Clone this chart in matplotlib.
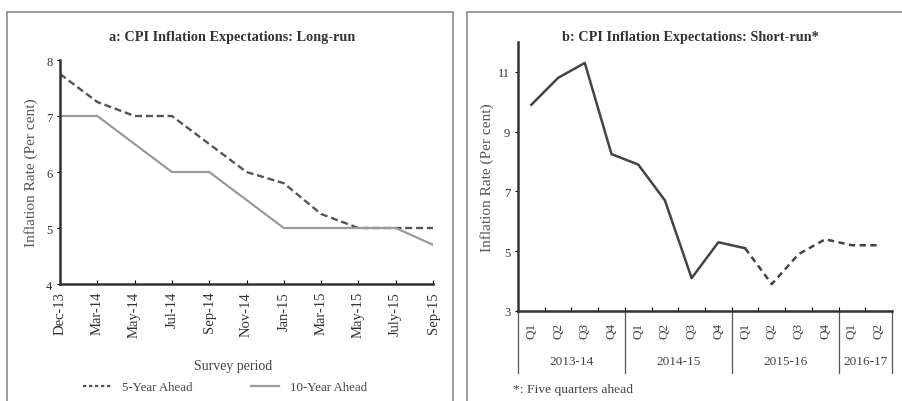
import numpy as np
import matplotlib
matplotlib.use("Agg")
import matplotlib.pyplot as plt
from matplotlib.patches import Rectangle
from matplotlib.lines import Line2D

plt.rcParams['font.family'] = ['Liberation Serif', 'DejaVu Serif']

# Panel a: long-run expectations
survey = ['Dec-13', 'Mar-14', 'May-14', 'Jul-14', 'Sep-14', 'Nov-14',
          'Jan-15', 'Mar-15', 'May-15', 'July-15', 'Sep-15']
five_year = [7.75, 7.25, 7.0, 7.0, 6.5, 6.0, 5.8, 5.25, 5.0, 5.0, 5.0]
ten_year = [7.0, 7.0, 6.5, 6.0, 6.0, 5.5, 5.0, 5.0, 5.0, 5.0, 4.7]

# Panel b: short-run expectations (quarters)
quarters = ['Q1', 'Q2', 'Q3', 'Q4', 'Q1', 'Q2', 'Q3', 'Q4',
            'Q1', 'Q2', 'Q3', 'Q4', 'Q1', 'Q2']
fin_years = ['2013-14', '2014-15', '2015-16', '2016-17']
year_len = [4, 4, 4, 2]
short_run = [9.9, 10.8, 11.3, 8.25, 7.9, 6.7, 4.1, 5.3,
             5.1, 3.9, 4.9, 5.4, 5.2, 5.2]
n_actual = 9  # first 9 points observed, rest projected

fig = plt.figure(figsize=(9.02, 4.02), dpi=100)

# panel borders
for x0, w in [(7, 446), (467, 440)]:
    fig.patches.append(Rectangle((x0 / 902, -0.05), w / 902, 1 - 13 / 402 + 0.05,
                                 transform=fig.transFigure, fill=False,
                                 edgecolor='#8a8a8a', lw=1.2))

# ---- left panel
ax1 = fig.add_axes([60 / 902, 1 - 285 / 402, 373 / 902, 224 / 402])
x1 = np.arange(len(survey))
ax1.plot(x1, five_year, color='#555555', lw=1.7, dashes=(3, 1.6))
ax1.plot(x1, ten_year, color='#9a9a9a', lw=1.6)
ax1.set_xlim(0, len(survey) - 1)
ax1.set_ylim(4, 8)
ax1.set_yticks([4, 5, 6, 7, 8])
ax1.set_xticks(x1)
ax1.set_xticklabels(survey, rotation=90, fontsize=10.5, color='#333333')
ax1.tick_params(axis='x', direction='in', length=3, pad=5)
ax1.tick_params(axis='y', direction='out', length=2, labelsize=9, labelcolor='#333333')
for s in ['top', 'right']:
    ax1.spines[s].set_visible(False)
for s in ['left', 'bottom']:
    ax1.spines[s].set_linewidth(1.8)
    ax1.spines[s].set_color('#333333')
ax1.set_ylabel('Inflation Rate (Per cent)', fontsize=11, color='#555555', labelpad=6)
fig.text(233 / 902, 1 - 367 / 402, 'Survey period', ha='center', va='center',
         fontsize=10, color='#444444')
fig.text(232 / 902, 1 - 37 / 402, 'a: CPI Inflation Expectations: Long-run',
         ha='center', va='center', fontsize=10.3, fontweight='bold', color='#333333')
handles = [Line2D([], [], color='#555555', lw=1.6, dashes=(1.5, 1.2)),
           Line2D([], [], color='#9a9a9a', lw=1.6)]
fig.legend(handles, ['5-Year Ahead', '10-Year Ahead'], ncol=2, frameon=False,
           loc='center', bbox_to_anchor=(225 / 902, 1 - 388 / 402),
           fontsize=9.3, handlelength=2.2, columnspacing=4.5, labelcolor='#444444')

# ---- right panel
ax2 = fig.add_axes([518 / 902, 1 - 312 / 402, 374 / 902, 269 / 402])
x2 = np.arange(len(quarters))
ax2.plot(x2[:n_actual], short_run[:n_actual], color='#444444', lw=1.8)
ax2.plot(x2[n_actual - 1:], short_run[n_actual - 1:], color='#444444', lw=1.8,
         dashes=(2.5, 1.8))
ax2.set_xlim(-0.5, len(quarters) - 0.5)
ax2.set_ylim(3, 12)
ax2.set_yticks([3, 5, 7, 9, 11])
ax2.tick_params(axis='y', direction='out', length=2, labelsize=9, labelcolor='#333333')
ax2.set_xticks(x2[:-1] + 0.5)
ax2.set_xticklabels([])
ax2.tick_params(axis='x', direction='in', length=3)
for s in ['top', 'right']:
    ax2.spines[s].set_visible(False)
for s in ['left', 'bottom']:
    ax2.spines[s].set_linewidth(1.8)
    ax2.spines[s].set_color('#333333')
ax2.set_ylabel('Inflation Rate (Per cent)', fontsize=11, color='#555555', labelpad=3)
trans = ax2.get_xaxis_transform()
for i, q in enumerate(quarters):
    ax2.text(i, -0.07, q, rotation=90, ha='center', va='center',
             fontsize=9.5, color='#444444', transform=trans)
start = 0
bounds = [-0.5]
for yr, n in zip(fin_years, year_len):
    ax2.text(start + (n - 1) / 2, -0.185, yr, ha='center', va='center',
             fontsize=9.5, color='#444444', transform=trans)
    start += n
    bounds.append(start - 0.5)
for b in bounds:
    ax2.plot([b, b], [0, -0.23], color='#555555', lw=0.9, transform=trans,
             clip_on=False)
fig.text(690 / 902, 1 - 37 / 402, 'b: CPI Inflation Expectations: Short-run*',
         ha='center', va='center', fontsize=10.3, fontweight='bold', color='#333333')
fig.text(513 / 902, 1 - 390 / 402, '*: Five quarters ahead', ha='left', va='center',
         fontsize=9.7, color='#444444')

fig.savefig('out.png', dpi=100)
